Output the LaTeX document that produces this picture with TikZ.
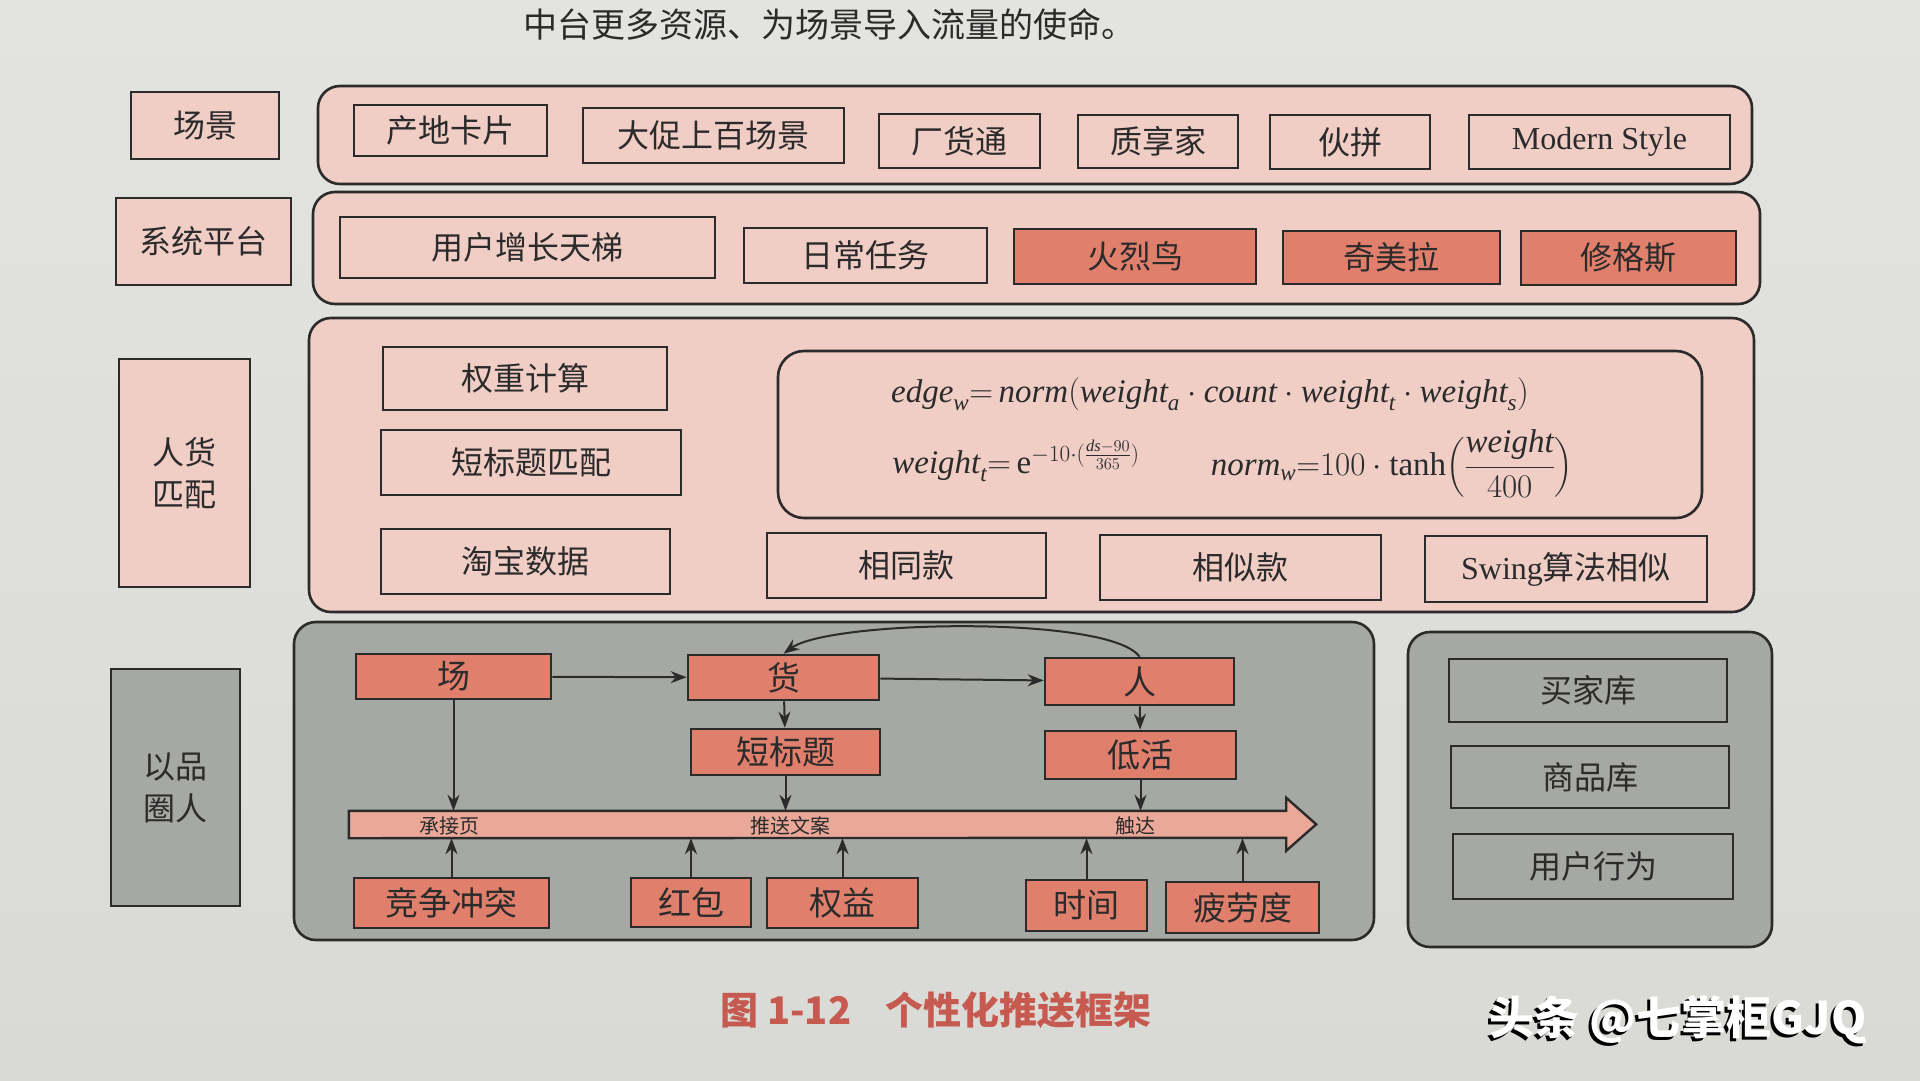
\RequirePackage{fix-cm}
\documentclass[tikz,border=0pt]{standalone}
\usepackage{amsmath}
\usepackage{fontspec}
\setmainfont{Liberation Serif}
\newfontfamily\cjk{Noto Sans CJK SC}
\usetikzlibrary{arrows.meta}
\definecolor{paper}{HTML}{D9DAD5}
\definecolor{paperhi}{HTML}{E3E4E0}
\definecolor{pinkbg}{HTML}{F0CDC5}
\definecolor{hotred}{HTML}{E07F6C}
\definecolor{barred}{HTML}{E9A898}
\definecolor{slate}{HTML}{A6A8A4}
\definecolor{ink}{HTML}{2B2B2B}
\definecolor{capred}{HTML}{C65A50}
\tikzstyle{line} = [draw=ink, line width=2pt, -{Stealth[length=16pt,width=12pt]}]
\tikzstyle{block} = [draw=ink, line width=2.6pt, rectangle, inner sep=0pt, text centered, text=ink, font=\cjk\fontsize{32}{42}\selectfont]
\tikzstyle{layer} = [block, rounded corners=22pt]
\tikzstyle{pinkbox} = [block, fill=pinkbg]
\tikzstyle{hotbox} = [block, fill=hotred]
\tikzstyle{greybox} = [block, fill=slate]
\tikzstyle{flow} = [block, fill=hotred, font=\cjk\fontsize{33}{40}\selectfont]
\tikzstyle{barlabel} = [inner sep=0pt, text=ink, font=\cjk\fontsize{20}{24}\selectfont]
\tikzstyle{formel} = [text=ink, inner sep=0pt, font=\fontsize{33}{40}\selectfont]
\tikzset{wh/.style 2 args={minimum width=#1pt, minimum height=#2pt}}

\begin{document}
\begin{tikzpicture}[x=1pt, y=-1pt]
    \useasboundingbox (0,0) rectangle (1920,1080);
    \clip (0,0) rectangle (1920,1080);
    \shade[top color=paperhi, bottom color=paper] (0,0) rectangle (1920,1080);
    \node[anchor=west, text=ink, font=\cjk\fontsize{34}{40}\selectfont] (toptext) at (520,24) {中台更多资源、为场景导入流量的使命。};

    \node[pinkbox, wh={148}{67}] (sceneLbl) at (205,125.5) {场景};
    \node[layer, fill=pinkbg, wh={1434}{98}] (scene) at (1035,135) {};
    \node[pinkbox, wh={193}{51}] (cdkp) at (450.5,130.5) {产地卡片};
    \node[pinkbox, wh={261}{55}] (dacu) at (713.5,135.5) {大促上百场景};
    \node[pinkbox, wh={161}{54}] (chgt) at (959.5,141) {厂货通};
    \node[pinkbox, wh={160}{53}] (zxj) at (1158,141.5) {质享家};
    \node[pinkbox, wh={160}{54}] (hp) at (1350,142) {伙拼};
    \node[pinkbox, wh={261}{54}, font=\rmfamily\fontsize{32}{36}\selectfont] (modern) at (1599.5,142) {Modern Style};

    \node[pinkbox, wh={175}{87}] (sysLbl) at (203.5,241.5) {系统平台};
    \node[layer, fill=pinkbg, wh={1447}{112}] (sys) at (1036.5,248) {};
    \node[pinkbox, wh={375}{61}] (ladder) at (527.5,247.5) {用户增长天梯};
    \node[pinkbox, wh={243}{55}] (daily) at (865.5,255.5) {日常任务};
    \node[hotbox, wh={242}{55}] (flamingo) at (1135,256.5) {火烈鸟};
    \node[hotbox, wh={217}{53}] (chimera) at (1391.5,257.5) {奇美拉};
    \node[hotbox, wh={215}{54}] (shoggoth) at (1628.5,258) {修格斯};

    \node[pinkbox, wh={131}{228}, align=center] (matchLbl) at (184.5,473) {人货\\匹配};
    \node[layer, fill=pinkbg, wh={1445}{294}] (match) at (1031.5,465) {};
    \node[pinkbox, wh={284}{63}] (weight) at (525,378.5) {权重计算};
    \node[pinkbox, wh={300}{65}] (stmatch) at (531,462.5) {短标题匹配};
    \node[pinkbox, wh={289}{65}] (taobao) at (525.5,561.5) {淘宝数据};
    \node[layer, fill=pinkbg, rounded corners=26pt, wh={924}{167}] (formula) at (1240,434.5) {};
    \node[formel] (fedge) at (1210,394)
        {$\mathit{edge}_{\mathit{w}}{=}\,\mathit{norm}(\mathit{weight}_{\mathit{a}}\cdot\mathit{count}\cdot\mathit{weight}_{\mathit{t}}\cdot\mathit{weight}_{\mathit{s}})$};
    \node[formel] (fdecay) at (1016,461)
        {$\mathit{weight}_{\mathit{t}}{=}\,\mathrm{e}^{-10\cdot(\frac{\mathit{ds}-90}{365})}$};
    \node[formel] (fnorm) at (1392,464)
        {$\mathit{norm}_{\mathit{w}}{=}100\cdot\tanh\Bigl(\dfrac{\mathit{weight}}{400}\Bigr)$};
    \node[pinkbox, wh={279}{65}] (same) at (906.5,565.5) {相同款};
    \node[pinkbox, wh={281}{65}] (similar) at (1240.5,567.5) {相似款};
    \node[pinkbox, wh={282}{66}] (swing) at (1566,569) {{\rmfamily Swing}算法相似};

    \node[greybox, wh={129}{237}, align=center] (circleLbl) at (175.5,787.5) {以品\\圈人};
    \node[layer, fill=slate, wh={1080}{318}] (flowarea) at (834,781) {};
    \node[layer, fill=slate, wh={364}{315}] (store) at (1590,789.5) {};
    \node[greybox, wh={278}{63}] (buyer) at (1588,690.5) {买家库};
    \node[greybox, wh={278}{62}] (goods) at (1590,777) {商品库};
    \node[greybox, wh={280}{65}] (behav) at (1593,866.5) {用户行为};

    \node[flow, wh={195}{45}] (chang) at (453.5,676.5) {场};
    \node[flow, wh={191}{45}] (huo) at (783.5,677.5) {货};
    \node[flow, wh={189}{47}] (ren) at (1139.5,681.5) {人};
    \node[flow, wh={189}{46}] (title) at (785.5,752) {短标题};
    \node[flow, wh={191}{48}] (lowact) at (1140.5,755) {低活};
    \node[flow, wh={195}{50}] (conflict) at (451.5,903) {竞争冲突};
    \node[flow, wh={120}{49}] (redpack) at (691,902.5) {红包};
    \node[flow, wh={151}{50}] (benefit) at (842.5,903) {权益};
    \node[flow, wh={121}{51}] (timing) at (1086.5,905.5) {时间};
    \node[flow, wh={153}{51}] (fatigue) at (1242.5,907.5) {疲劳度};

    \node[inner sep=0pt, wh={937}{27}] (bar) at (817.5,824.5) {};
    \filldraw[fill=barred, draw=ink, line width=2.4pt, line join=miter]
        (bar.north west) -- (bar.north east) -- ++(0,-13) -- ++(30,26.5) -- ++(-30,26.5) -- ++(0,-13) -- (bar.south west) -- cycle;
    \node[barlabel] (landing) at (449,826) {承接页};
    \node[barlabel] (copy) at (790,826) {推送文案};
    \node[barlabel] (reach) at (1135,826) {触达};

    \path[line] (chang) -- (huo);
    \path[line] (huo) -- (ren);
    \path[line] (ren.north) .. controls (1110,615) and (830,620) .. (huo.north);
    \path[line] (chang) -- (chang |- bar.north);
    \path[line] (huo) -- (title);
    \path[line] (title) -- (title |- bar.north);
    \path[line] (ren) -- (lowact);
    \path[line] (lowact) -- (lowact |- bar.north);
    \path[line] (conflict) -- (conflict |- bar.south);
    \path[line] (redpack) -- (redpack |- bar.south);
    \path[line] (benefit) -- (benefit |- bar.south);
    \path[line] (timing) -- (timing |- bar.south);
    \path[line] (fatigue) -- (fatigue |- bar.south);

    \node[text=capred, font=\cjk\bfseries\fontsize{38}{44}\selectfont] (caption) at (936,1010) {图 1-12\hspace{0.9em}个性化推送框架};
    \node[text=black, font=\cjk\bfseries\fontsize{45}{50}\selectfont] (markshadow) at (1675,1023) {头条 @七掌柜GJQ};
    \node[text=white, font=\cjk\bfseries\fontsize{45}{50}\selectfont] (mark) at (1678,1020) {头条 @七掌柜GJQ};
\end{tikzpicture}
\end{document}
